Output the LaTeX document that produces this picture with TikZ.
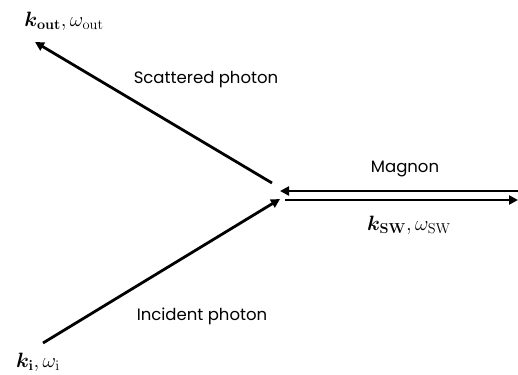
\documentclass[tikz,border=0pt]{standalone}
\usepackage{amsmath}
\usepackage{bm}
\usepackage[no-math]{fontspec}
\setmainfont{Poppins}
\usetikzlibrary{arrows.meta}
\tikzset{
  lbl/.style={font=\fontsize{16.5}{19}\selectfont, inner sep=0pt},
  mlbl/.style={font=\fontsize{21}{24}\selectfont, inner sep=0pt},
  arr/.style={line width=2.8pt, -{Triangle[length=9pt,width=9pt]}},
}
\begin{document}
\begin{tikzpicture}[x=1pt,y=-1pt]
\useasboundingbox (0,0) rectangle (518,374);
% coordinates
\coordinate (sstart) at (272,183);
\coordinate (stip) at (35,42);
\coordinate (istart) at (43,343);
\coordinate (itip) at (280,199);
\coordinate (mR) at (518,191);
\coordinate (mL) at (280,191);
\coordinate (wL) at (285,200);
\coordinate (wR) at (518,200);
% arrows
\draw[arr] (sstart) -- (stip);
\draw[arr] (istart) -- (itip);
\draw[arr] (mR) -- (mL);
\draw[arr] (wL) -- (wR);
% labels
\node[mlbl] (kout) at (64,21) {$\bm{k}_{\mathbf{out}}, \omega_{\mathrm{out}}$};
\node[lbl] (scat) at (206,80) {Scattered photon};
\node[lbl] (mag) at (405,169) {Magnon};
\node[mlbl] (ksw) at (409,225) {$\bm{k}_{\mathbf{SW}}, \omega_{\mathrm{SW}}$};
\node[lbl] (inc) at (202,316) {Incident photon};
\node[mlbl] (ki) at (38,362) {$\bm{k}_{\mathbf{i}}, \omega_{\mathrm{i}}$};
\end{tikzpicture}
\end{document}
